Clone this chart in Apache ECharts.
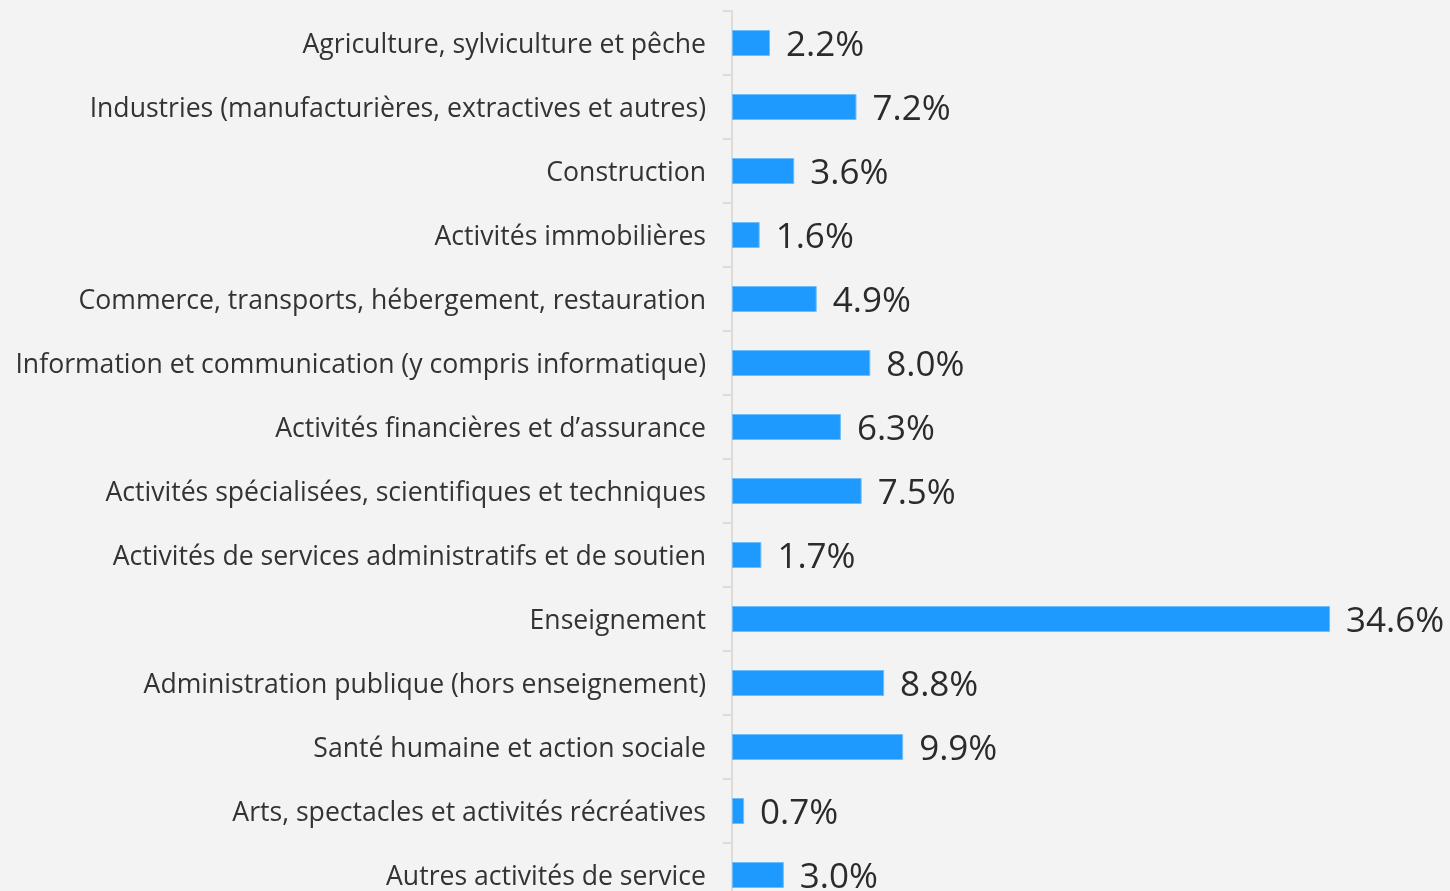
<!DOCTYPE html>
<html>
<head>
<meta charset="utf-8">
<script src="https://cdn.jsdelivr.net/npm/echarts@6/dist/echarts.min.js"></script>
<style>
  html, body { margin: 0; padding: 0; background: #f3f3f3; }
  #chart { width: 1450px; height: 891px; }
</style>
</head>
<body>
<div id="chart"></div>
<script>
var categories = [
  'Agriculture, sylviculture et pêche',
  'Industries (manufacturières, extractives et autres)',
  'Construction',
  'Activités immobilières',
  'Commerce, transports, hébergement, restauration',
  'Information et communication (y compris informatique)',
  'Activités financières et d’assurance',
  'Activités spécialisées, scientifiques et techniques',
  'Activités de services administratifs et de soutien',
  'Enseignement',
  'Administration publique (hors enseignement)',
  'Santé humaine et action sociale',
  'Arts, spectacles et activités récréatives',
  'Autres activités de service'
]
var shares = [2.2, 7.2, 3.6, 1.6, 4.9, 8.0, 6.3, 7.5, 1.7, 34.6, 8.8, 9.9, 0.7, 3.0]

var el = document.getElementById('chart')
const myChart = echarts.init(el)
myChart.setOption({
  backgroundColor: '#f3f3f3',
  animation: false,
  grid: { left: 732, top: 11, width: 605, height: 896, containLabel: false, outerBoundsMode: 'none' },
  xAxis: {
    type: 'value',
    min: 0,
    max: 35,
    show: false
  },
  yAxis: {
    type: 'category',
    inverse: true,
    data: categories,
    axisLine: { show: true, lineStyle: { color: '#dcdcdc', width: 2 } },
    axisTick: { show: true, length: 9, lineStyle: { color: '#dcdcdc', width: 2 } },
    axisLabel: {
      interval: 0,
      margin: 26,
      color: '#333',
      fontFamily: 'Open Sans',
      fontSize: 26.6,
      verticalAlign: 'top',
      lineHeight: 4
    }
  },
  series: [{
    type: 'bar',
    data: shares,
    barWidth: 26,
    itemStyle: { color: '#1e9afe', borderColor: '#6fbdfb', borderWidth: 1 },
    label: {
      show: true,
      position: 'right',
      distance: 16,
      offset: [0, 3],
      color: '#2b2b2b',
      fontFamily: 'Open Sans',
      fontSize: 35,
      formatter: function (p) { return p.value.toFixed(1) + '%' }
    }
  }]
})
</script>
</body>
</html>
